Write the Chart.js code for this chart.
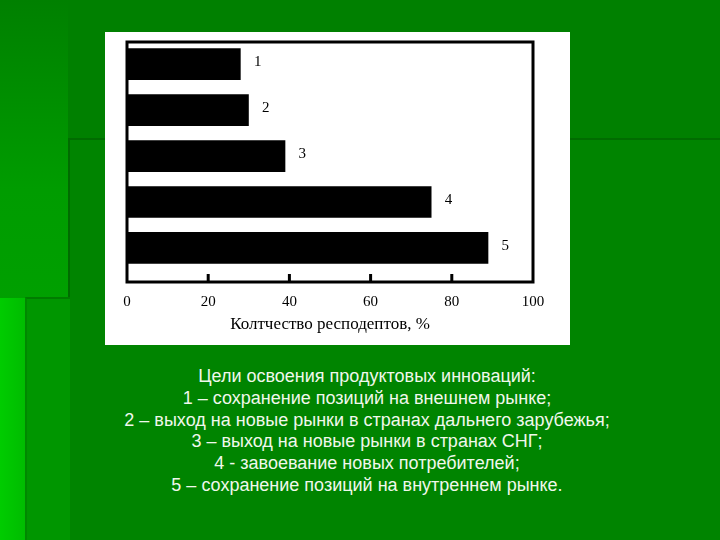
<!DOCTYPE html>
<html lang="ru">
<head>
  <meta charset="UTF-8">
  <title>Цели освоения продуктовых инноваций</title>
  <style>
    html, body {
      margin: 0;
      padding: 0;
    }
    body {
      width: 720px;
      height: 540px;
      position: relative;
      overflow: hidden;
      background: #008000;
    }
    .fon {
      position: absolute;
    }
    #levo {
      left: 0; top: 0; width: 68px; height: 540px;
      background: linear-gradient(to bottom, #008000 0%, #009c00 35%, #00a800 100%);
    }
    #niz {
      left: 68px; top: 138px; width: 652px; height: 402px;
      background: #008400;
      border-top: 2px solid #006c00;
      border-left: 2px solid #006c00;
    }
    #ugol {
      left: 0; top: 298px; width: 25px; height: 242px;
      background: linear-gradient(to right, #00cc00, #00bc00);
    }
    #ugol2 {
      left: 25px; top: 297px; width: 43px; height: 243px;
      background: #009600;
      border-top: 2px solid #007c00;
      border-left: 2px solid #008800;
    }
    #korobka {
      position: absolute;
      left: 105px;
      top: 32px;
      width: 465px;
      height: 313px;
      background: #ffffff;
    }
    #podpis {
      position: absolute;
      left: 40px;
      width: 654px;
      top: 366px;
      text-align: center;
      color: #f0f8ec;
      font-family: "Liberation Sans", Arial, sans-serif;
      font-size: 18px;
      line-height: 21.8px;
    }
  </style>
  <script src="https://cdn.jsdelivr.net/npm/chart.js"></script>
</head>
<body>
<div class="fon" id="levo"></div>
<div class="fon" id="niz"></div>
<div class="fon" id="ugol"></div>
<div class="fon" id="ugol2"></div>
<div id="korobka">
  <canvas id="grafik" width="465" height="313"></canvas>
</div>
<div id="podpis">
  Цели освоения продуктовых инноваций:<br>
  1 – сохранение позиций на внешнем рынке;<br>
  2 – выход на новые рынки в странах дальнего зарубежья;<br>
  3 – выход на новые рынки в странах СНГ;<br>
  4 - завоевание новых потребителей;<br>
  5 – сохранение позиций на внутреннем рынке.
</div>
<script>
  // номера целей и доля респондентов, %
  const nomera = ['1', '2', '3', '4', '5'];
  const pozicii = [1, 2, 3, 4, 5];
  const dolya = [28, 30, 39, 75, 89];
  const metkiX = [0, 20, 40, 60, 80, 100];
  const nazvanieX = 'Колтчество респодептов, %';

  const shrift = 'Liberation Serif, Times New Roman, serif';

  // рамка вокруг области графика, внутренние засечки и номера у столбцов
  const ramka = {
    id: 'ramka',
    afterDatasetsDraw(chart) {
      const c = chart.ctx;
      const a = chart.chartArea;
      const sx = chart.scales.x;
      c.save();
      c.strokeStyle = '#000';
      c.lineWidth = 3;
      c.strokeRect(a.left, a.top, a.right - a.left, a.bottom - a.top);
      metkiX.slice(1, -1).forEach(v => {
        const px = sx.getPixelForValue(v);
        c.beginPath();
        c.moveTo(px, a.bottom);
        c.lineTo(px, a.bottom - 8);
        c.stroke();
      });
      c.fillStyle = '#000';
      c.font = '15px ' + shrift;
      c.textAlign = 'center';
      c.textBaseline = 'middle';
      chart.getDatasetMeta(0).data.forEach((bar, i) => {
        c.fillText(nomera[i], bar.x + 17, bar.y - 2);
      });
      c.restore();
    }
  };

  const ctx = document.getElementById('grafik').getContext('2d');
  new Chart(ctx, {
    type: 'bar',
    data: {
      datasets: [{
        data: dolya.map((v, i) => ({ x: v, y: pozicii[i] })),
        backgroundColor: '#000',
        borderWidth: 0,
        barPercentage: 0.69,
        categoryPercentage: 1
      }]
    },
    options: {
      indexAxis: 'y',
      responsive: false,
      animation: false,
      layout: { padding: { left: 22, right: 37, top: 10, bottom: 10 } },
      plugins: {
        legend: { display: false },
        tooltip: { enabled: false }
      },
      scales: {
        x: {
          type: 'linear',
          min: 0,
          max: 100,
          afterBuildTicks(scale) {
            scale.ticks = metkiX.map(v => ({ value: v }));
          },
          afterFit(scale) {
            scale.height = 53;
          },
          grid: { display: false },
          border: { display: false },
          ticks: {
            color: '#000',
            padding: 3,
            maxRotation: 0,
            font: { family: shrift, size: 15 }
          },
          title: {
            display: true,
            text: nazvanieX,
            color: '#000',
            padding: { top: 0, bottom: 0 },
            font: { family: shrift, size: 17 }
          }
        },
        y: {
          type: 'linear',
          reverse: true,
          offset: false,
          min: 0.52,
          max: 5.74,
          display: false,
          afterBuildTicks(scale) {
            scale.ticks = pozicii.map(v => ({ value: v }));
          }
        }
      }
    },
    plugins: [ramka]
  });
</script>
</body>
</html>
